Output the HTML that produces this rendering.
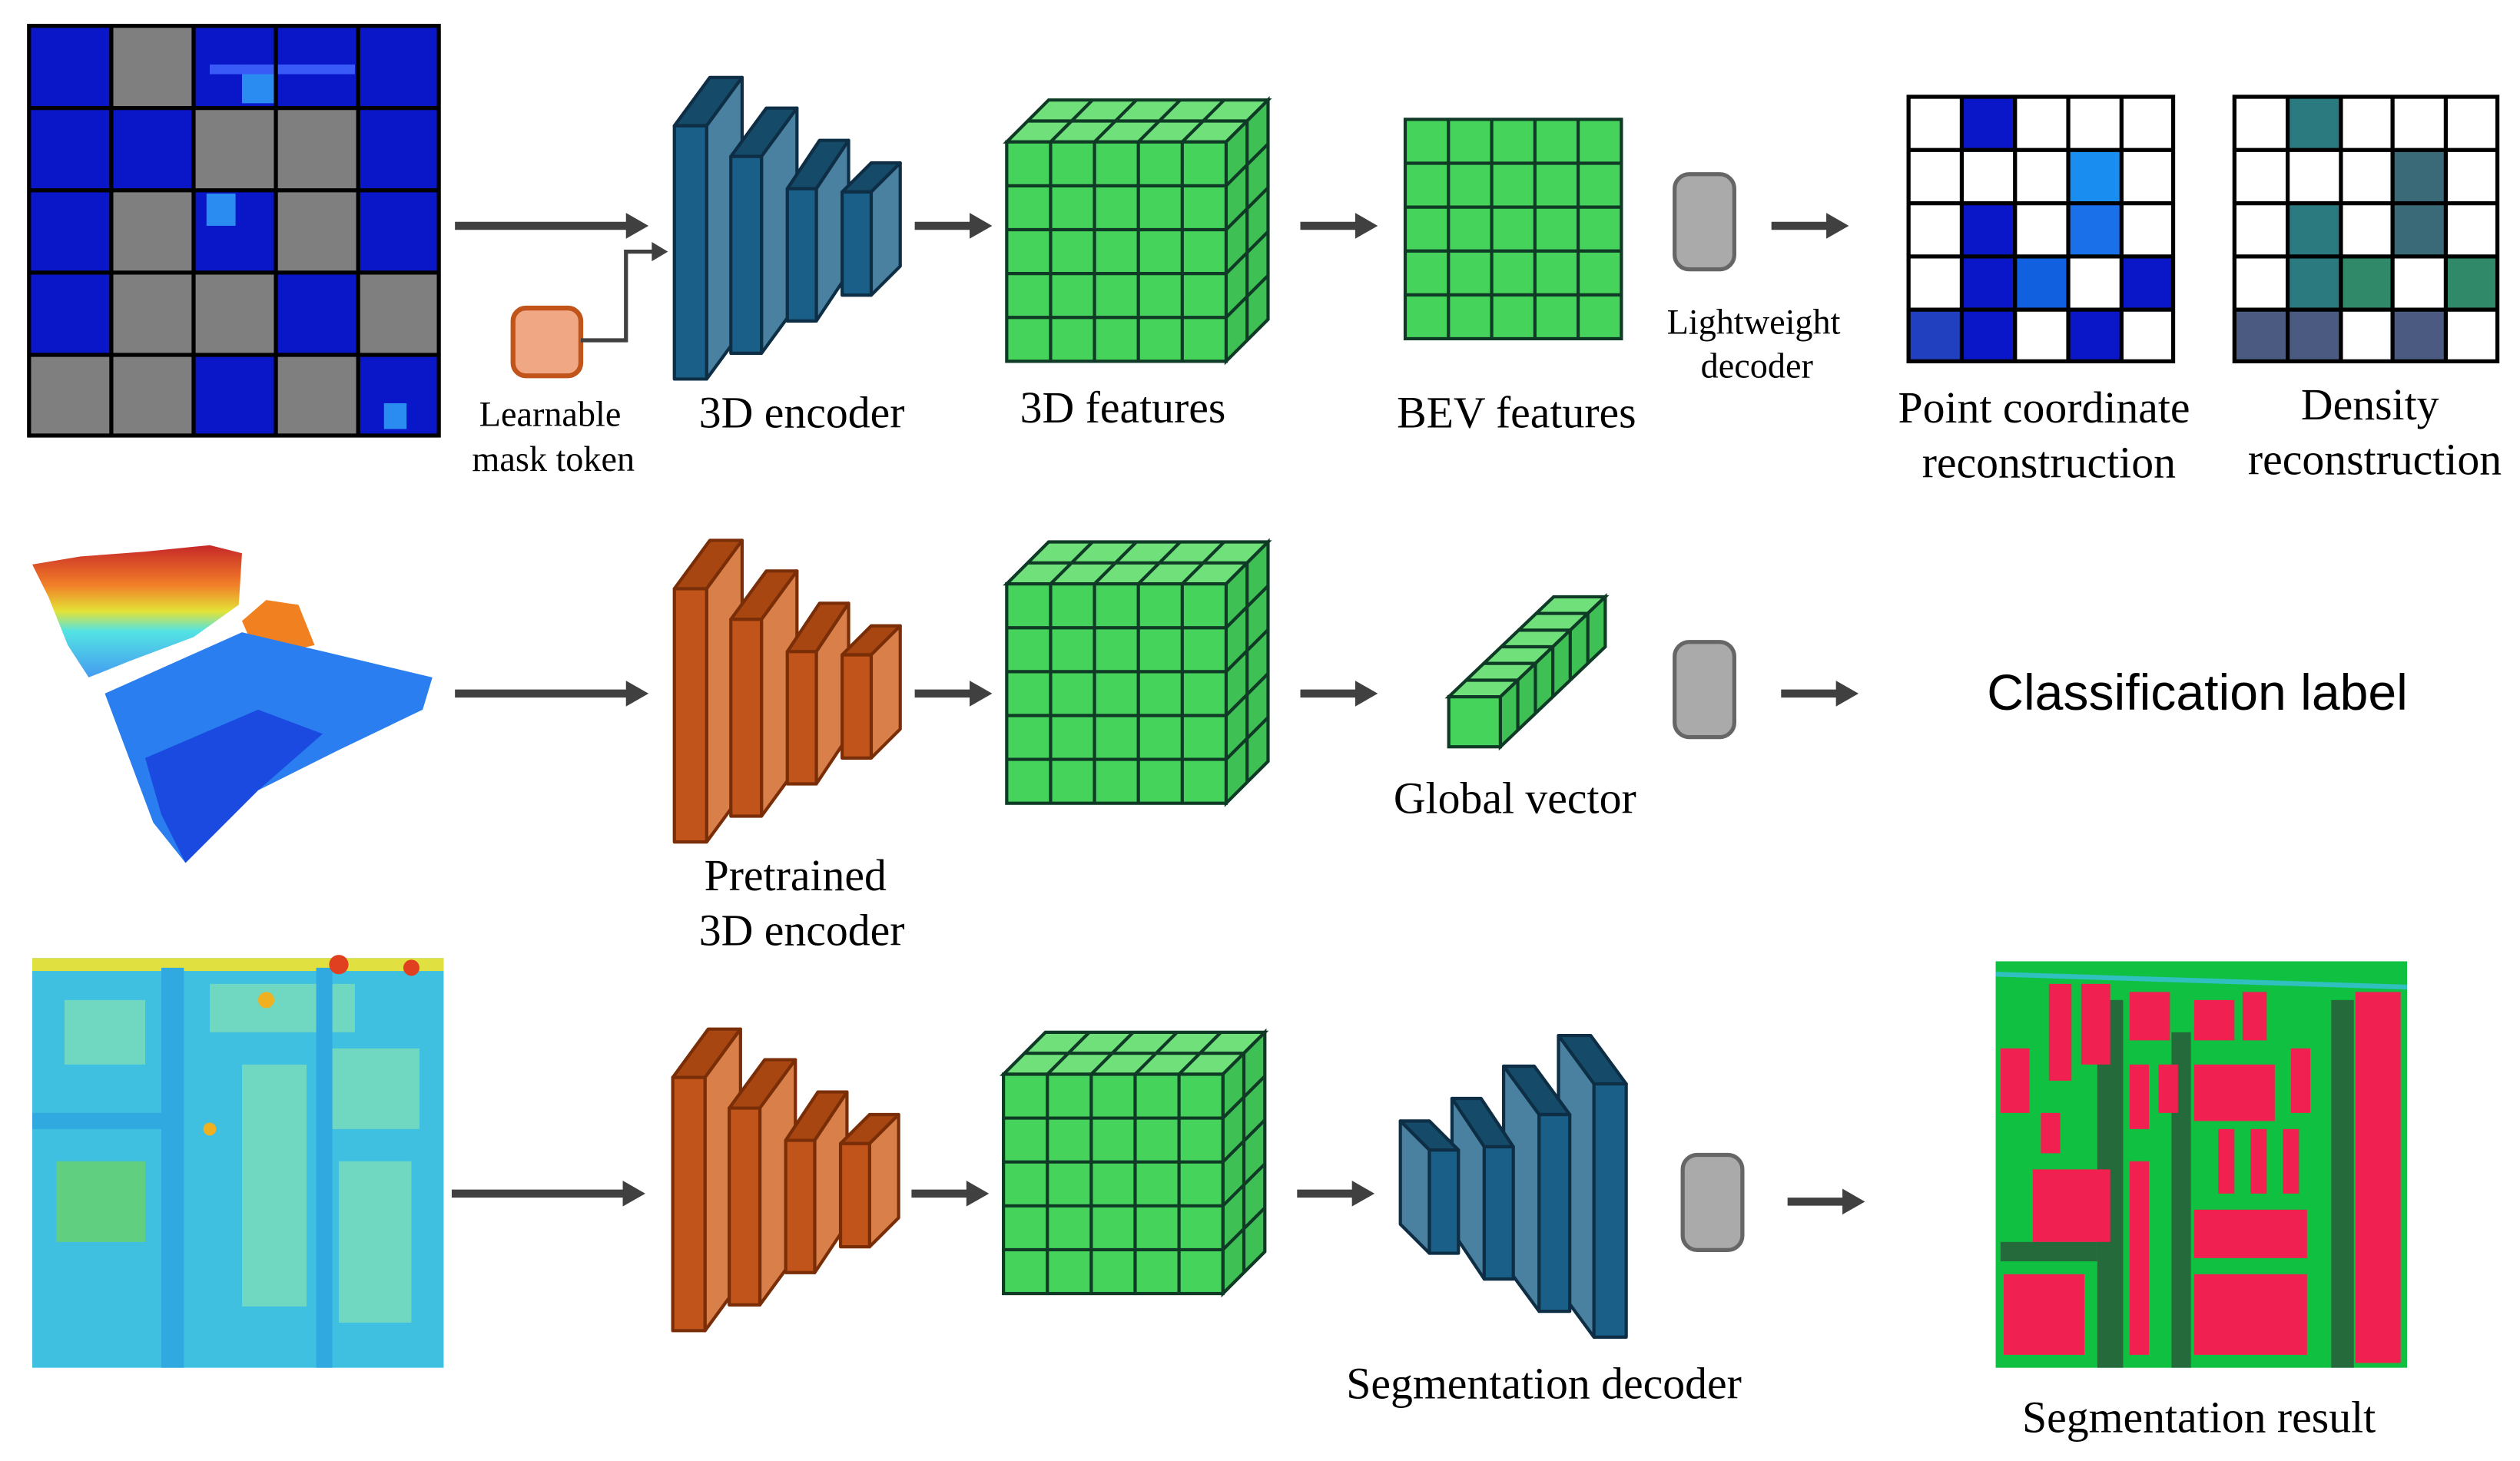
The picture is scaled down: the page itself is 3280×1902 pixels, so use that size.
<!DOCTYPE html>
<html><head><meta charset="utf-8"><style>
html,body{margin:0;padding:0;background:#fff;}
svg{display:block;}
text{font-family:"Liberation Serif",serif;fill:#000;}
</style></head><body>
<svg width="3280" height="1902" viewBox="0 0 1562 905.8" preserveAspectRatio="none" xmlns="http://www.w3.org/2000/svg">
<defs>
<g id="encB" stroke="#0d2e45" stroke-width="2" stroke-linejoin="round">
  <polygon points="418,78 440,48 460,48 438,78" fill="#154a68"/>
  <polygon points="438,78 460,48 460,205 438,235" fill="#4a80a0"/>
  <rect x="418" y="78" width="20" height="157" fill="#1a5f87"/>
  <polygon points="453,97 475,67 494,67 472,97" fill="#154a68"/>
  <polygon points="472,97 494,67 494,189 472,219" fill="#4a80a0"/>
  <rect x="453" y="97" width="19" height="122" fill="#1a5f87"/>
  <polygon points="488,117 508,87 526,87 506,117" fill="#154a68"/>
  <polygon points="506,117 526,87 526,169 506,199" fill="#4a80a0"/>
  <rect x="488" y="117" width="18" height="82" fill="#1a5f87"/>
  <polygon points="522,119 540,101 558,101 540,119" fill="#154a68"/>
  <polygon points="540,119 558,101 558,165 540,183" fill="#4a80a0"/>
  <rect x="522" y="119" width="18" height="64" fill="#1a5f87"/>
</g>
<g id="encO" stroke="#7a2e08" stroke-width="2" stroke-linejoin="round">
  <polygon points="418,78 440,48 460,48 438,78" fill="#a84612"/>
  <polygon points="438,78 460,48 460,205 438,235" fill="#d9804a"/>
  <rect x="418" y="78" width="20" height="157" fill="#c0541a"/>
  <polygon points="453,97 475,67 494,67 472,97" fill="#a84612"/>
  <polygon points="472,97 494,67 494,189 472,219" fill="#d9804a"/>
  <rect x="453" y="97" width="19" height="122" fill="#c0541a"/>
  <polygon points="488,117 508,87 526,87 506,117" fill="#a84612"/>
  <polygon points="506,117 526,87 526,169 506,199" fill="#d9804a"/>
  <rect x="488" y="117" width="18" height="82" fill="#c0541a"/>
  <polygon points="522,119 540,101 558,101 540,119" fill="#a84612"/>
  <polygon points="540,119 558,101 558,165 540,183" fill="#d9804a"/>
  <rect x="522" y="119" width="18" height="64" fill="#c0541a"/>
</g>
<g id="cube" stroke="#0f3a25" stroke-width="2">
  <polygon points="624,88 650,62 786,62 760,88" fill="#6fe07a"/>
  <polygon points="760,88 786,62 786,198 760,224" fill="#3fc054"/>
  <rect x="624" y="88" width="136" height="136" fill="#46d35c"/>
  <path d="M651.2,88V224M678.4,88V224M705.6,88V224M732.8,88V224M624,115.2H760M624,142.4H760M624,169.6H760M624,196.8H760
  M651.2,88L677.2,62M678.4,88L704.4,62M705.6,88L731.6,62M732.8,88L758.8,62M637,75H773
  M760,115.2L786,89.2M760,142.4L786,116.4M760,169.6L786,143.6M760,196.8L786,170.8M773,75V211" fill="none"/>
</g>
<g id="gbox"><rect x="1038" y="108" width="37" height="59" rx="9" fill="#aaaaaa" stroke="#666" stroke-width="2.5"/></g>
<g id="arr"><line x1="0" y1="0" x2="36" y2="0" stroke="#404040" stroke-width="5"/><polygon points="34,-8 48,0 34,8" fill="#404040"/></g>
<g id="arrL"><line x1="0" y1="0" x2="108" y2="0" stroke="#404040" stroke-width="5"/><polygon points="106,-8 120,0 106,8" fill="#404040"/></g>
<linearGradient id="pc" x1="0" y1="0" x2="0" y2="1">
<stop offset="0" stop-color="#c01010"/><stop offset="0.3" stop-color="#f07010"/><stop offset="0.5" stop-color="#e0e020"/><stop offset="0.65" stop-color="#40e0e0"/><stop offset="1" stop-color="#3090f0"/></linearGradient>
</defs>

<!-- Row 1 masked grid -->
<g>
<rect x="18" y="16" width="254" height="254" fill="#0a17c8"/>
<g fill="#7f7f7f">
<rect x="69" y="16" width="51" height="51"/>
<rect x="120" y="67" width="51" height="51"/><rect x="171" y="67" width="51" height="51"/>
<rect x="69" y="118" width="51" height="51"/><rect x="171" y="118" width="51" height="51"/>
<rect x="69" y="169" width="51" height="51"/><rect x="120" y="169" width="51" height="51"/><rect x="222" y="169" width="50" height="51"/>
<rect x="18" y="220" width="51" height="50"/><rect x="69" y="220" width="51" height="50"/><rect x="171" y="220" width="51" height="50"/>
</g>
<g fill="#2a8cf0"><rect x="150" y="40" width="20" height="24"/><rect x="128" y="120" width="18" height="20"/><rect x="238" y="250" width="14" height="16"/><rect x="130" y="40" width="90" height="6" fill="#3a5af8"/></g>
<path d="M18,16H272V270H18Z M69,16V270 M120,16V270 M171,16V270 M222,16V270 M18,67H272 M18,118H272 M18,169H272 M18,220H272" fill="none" stroke="#000" stroke-width="2.5"/>
</g>

<use href="#arrL" x="282" y="140"/>
<rect x="318" y="191" width="42" height="42" rx="8" fill="#f0a884" stroke="#c0541a" stroke-width="3"/>
<polyline points="360,211 388,211 388,156 405,156" fill="none" stroke="#404040" stroke-width="2.5"/>
<polygon points="404,150 414,156 404,162" fill="#404040"/>
<text x="341" y="264" font-size="22" text-anchor="middle">Learnable</text>
<text x="343" y="292" font-size="22" text-anchor="middle">mask token</text>

<use href="#encB"/>
<text x="497" y="265" font-size="27.5" text-anchor="middle">3D encoder</text>
<use href="#arr" x="567" y="140"/>
<use href="#cube"/>
<text x="696" y="262" font-size="27.5" text-anchor="middle">3D features</text>
<use href="#arr" x="806" y="140"/>
<rect x="871" y="74" width="134" height="136" fill="#46d35c" stroke="#0f3a25" stroke-width="2"/>
<path d="M897.8,74V210M924.6,74V210M951.4,74V210M978.2,74V210M871,101.2H1005M871,128.4H1005M871,155.6H1005M871,182.8H1005" stroke="#0f3a25" stroke-width="2"/>
<text x="940" y="265" font-size="27.5" text-anchor="middle">BEV features</text>
<use href="#gbox"/>
<text x="1087" y="207" font-size="22" text-anchor="middle">Lightweight</text>
<text x="1089" y="234" font-size="22" text-anchor="middle">decoder</text>
<use href="#arr" x="1098" y="140"/>

<g>
<rect x="1183" y="60" width="164" height="164" fill="#fff"/>
<g fill="#0a17c8">
<rect x="1216" y="60" width="33" height="33"/>
<rect x="1282" y="93" width="33" height="33" fill="#1a8ef0"/>
<rect x="1216" y="126" width="33" height="33"/><rect x="1282" y="126" width="33" height="33" fill="#1a70e8"/>
<rect x="1216" y="159" width="33" height="33"/><rect x="1249" y="159" width="33" height="33" fill="#1060e0"/><rect x="1315" y="159" width="32" height="33"/>
<rect x="1183" y="192" width="33" height="32" fill="#2040c0"/><rect x="1216" y="192" width="33" height="32"/><rect x="1282" y="192" width="33" height="32"/>
</g>
<path d="M1183,60H1347V224H1183Z M1216,60V224M1249,60V224M1282,60V224M1315,60V224M1183,93H1347M1183,126H1347M1183,159H1347M1183,192H1347" fill="none" stroke="#000" stroke-width="2.5"/>
</g>
<g>
<rect x="1385" y="60" width="163" height="164" fill="#fff"/>
<g fill="#2a7a80">
<rect x="1418" y="60" width="33" height="33"/>
<rect x="1483" y="93" width="33" height="33" fill="#3a6a78"/>
<rect x="1418" y="126" width="33" height="33"/><rect x="1483" y="126" width="33" height="33" fill="#3a6a78"/>
<rect x="1418" y="159" width="33" height="33"/><rect x="1451" y="159" width="32" height="33" fill="#308a6a"/><rect x="1516" y="159" width="32" height="33" fill="#308a6a"/>
<rect x="1385" y="192" width="33" height="32" fill="#4a5a80"/><rect x="1418" y="192" width="33" height="32" fill="#4a5a80"/><rect x="1483" y="192" width="33" height="32" fill="#4a5a80"/>
</g>
<path d="M1385,60H1548V224H1385Z M1418,60V224M1451,60V224M1483,60V224M1516,60V224M1385,93H1548M1385,126H1548M1385,159H1548M1385,192H1548" fill="none" stroke="#000" stroke-width="2.5"/>
</g>
<text x="1267" y="262" font-size="27.5" text-anchor="middle">Point coordinate</text>
<text x="1270" y="296" font-size="27.5" text-anchor="middle">reconstruction</text>
<text x="1469" y="260" font-size="27.5" text-anchor="middle">Density</text>
<text x="1472" y="294" font-size="27.5" text-anchor="middle">reconstruction</text>

<!-- Row 2 point cloud -->
<polygon points="20,350 50,345 90,342 130,338 150,343 148,375 120,395 80,410 55,420 42,400 30,370" fill="url(#pc)" opacity="0.9"/>
<polygon points="150,385 165,372 185,375 195,400 160,408" fill="#f08020"/>
<polygon points="65,430 150,392 205,405 268,420 262,440 210,465 160,490 115,535 95,510 80,470" fill="#2a7ef0"/>
<polygon points="90,470 160,440 200,455 160,490 115,535 100,505" fill="#1a4ae0"/>

<use href="#arrL" x="282" y="430"/>
<use href="#encO" y="287"/>
<text x="493" y="552" font-size="27.5" text-anchor="middle">Pretrained</text>
<text x="497" y="586" font-size="27.5" text-anchor="middle">3D encoder</text>
<use href="#arr" x="567" y="430"/>
<use href="#cube" y="274"/>
<use href="#arr" x="806" y="430"/>
<g stroke="#0f3a25" stroke-width="2">
<polygon points="898,432 963,370 995,370 930,432" fill="#6fe07a"/>
<polygon points="930,432 995,370 995,401 930,463" fill="#3fc054"/>
<rect x="898" y="432" width="32" height="31" fill="#46d35c"/>
<path d="M908.8,421.7H940.8M919.7,411.3H951.7M930.5,401H962.5M941.3,390.7H973.3M952.2,380.3H984.2M940.8,421.7V452.7M951.7,411.3V442.3M962.5,401V432M973.3,390.7V421.7M984.2,380.3V411.3" fill="none"/>
</g>
<text x="939" y="504" font-size="27.5" text-anchor="middle">Global vector</text>
<use href="#gbox" y="290"/>
<use href="#arr" x="1104" y="430"/>
<text x="1362" y="440" font-size="31.5" text-anchor="middle" style="font-family:'Liberation Sans',sans-serif">Classification label</text>

<!-- Row 3 heightmap -->
<rect x="20" y="594" width="255" height="254" fill="#40c0e0"/>
<rect x="20" y="594" width="255" height="8" fill="#e0e040"/>
<g fill="#70d8c0">
<rect x="40" y="620" width="50" height="40"/><rect x="130" y="610" width="90" height="30"/><rect x="200" y="650" width="60" height="50"/>
<rect x="150" y="660" width="40" height="150"/><rect x="35" y="720" width="55" height="50" fill="#60d080"/><rect x="210" y="720" width="45" height="100"/>
</g>
<g fill="#30a8e0"><rect x="100" y="600" width="14" height="248"/><rect x="20" y="690" width="90" height="10"/><rect x="196" y="600" width="10" height="248"/></g>
<g fill="#f0b020"><circle cx="210" cy="598" r="6" fill="#e04020"/><circle cx="255" cy="600" r="5" fill="#e04020"/><circle cx="165" cy="620" r="5"/><circle cx="130" cy="700" r="4"/></g>

<use href="#arrL" x="280" y="740"/>
<use href="#encO" y="590" x="-1"/>
<use href="#arr" x="565" y="740"/>
<use href="#cube" x="-2" y="578"/>
<use href="#arr" x="804" y="740"/>
<use href="#encB" transform="translate(1426,594) scale(-1,1)"/>
<text x="957" y="867" font-size="27.5" text-anchor="middle">Segmentation decoder</text>
<use href="#gbox" x="5" y="608"/>
<use href="#arr" x="1108" y="745"/>

<rect x="1237" y="596" width="255" height="252" fill="#10c040"/>
<line x1="1237" y1="604" x2="1492" y2="612" stroke="#30c0c0" stroke-width="3"/>
<g fill="#256a3a">
<rect x="1300" y="620" width="16" height="228"/><rect x="1346" y="640" width="12" height="208"/><rect x="1445" y="620" width="14" height="228"/><rect x="1240" y="770" width="60" height="12"/>
</g>
<g fill="#f02050">
<rect x="1270" y="610" width="14" height="60"/><rect x="1260" y="725" width="48" height="45"/><rect x="1290" y="610" width="18" height="50"/>
<rect x="1320" y="615" width="25" height="30"/><rect x="1360" y="620" width="25" height="25"/><rect x="1390" y="615" width="15" height="30"/>
<rect x="1460" y="615" width="28" height="230"/><rect x="1320" y="660" width="12" height="40"/><rect x="1338" y="660" width="12" height="30"/>
<rect x="1360" y="660" width="50" height="35"/><rect x="1375" y="700" width="10" height="40"/><rect x="1395" y="700" width="10" height="40"/><rect x="1415" y="700" width="10" height="40"/>
<rect x="1265" y="690" width="12" height="25"/><rect x="1240" y="650" width="18" height="40"/><rect x="1320" y="720" width="12" height="120"/>
<rect x="1360" y="750" width="70" height="30"/><rect x="1360" y="790" width="70" height="50"/><rect x="1242" y="790" width="50" height="50"/><rect x="1420" y="650" width="12" height="40"/>
</g>
<text x="1363" y="888" font-size="27.5" text-anchor="middle">Segmentation result</text>
</svg>
</body></html>
